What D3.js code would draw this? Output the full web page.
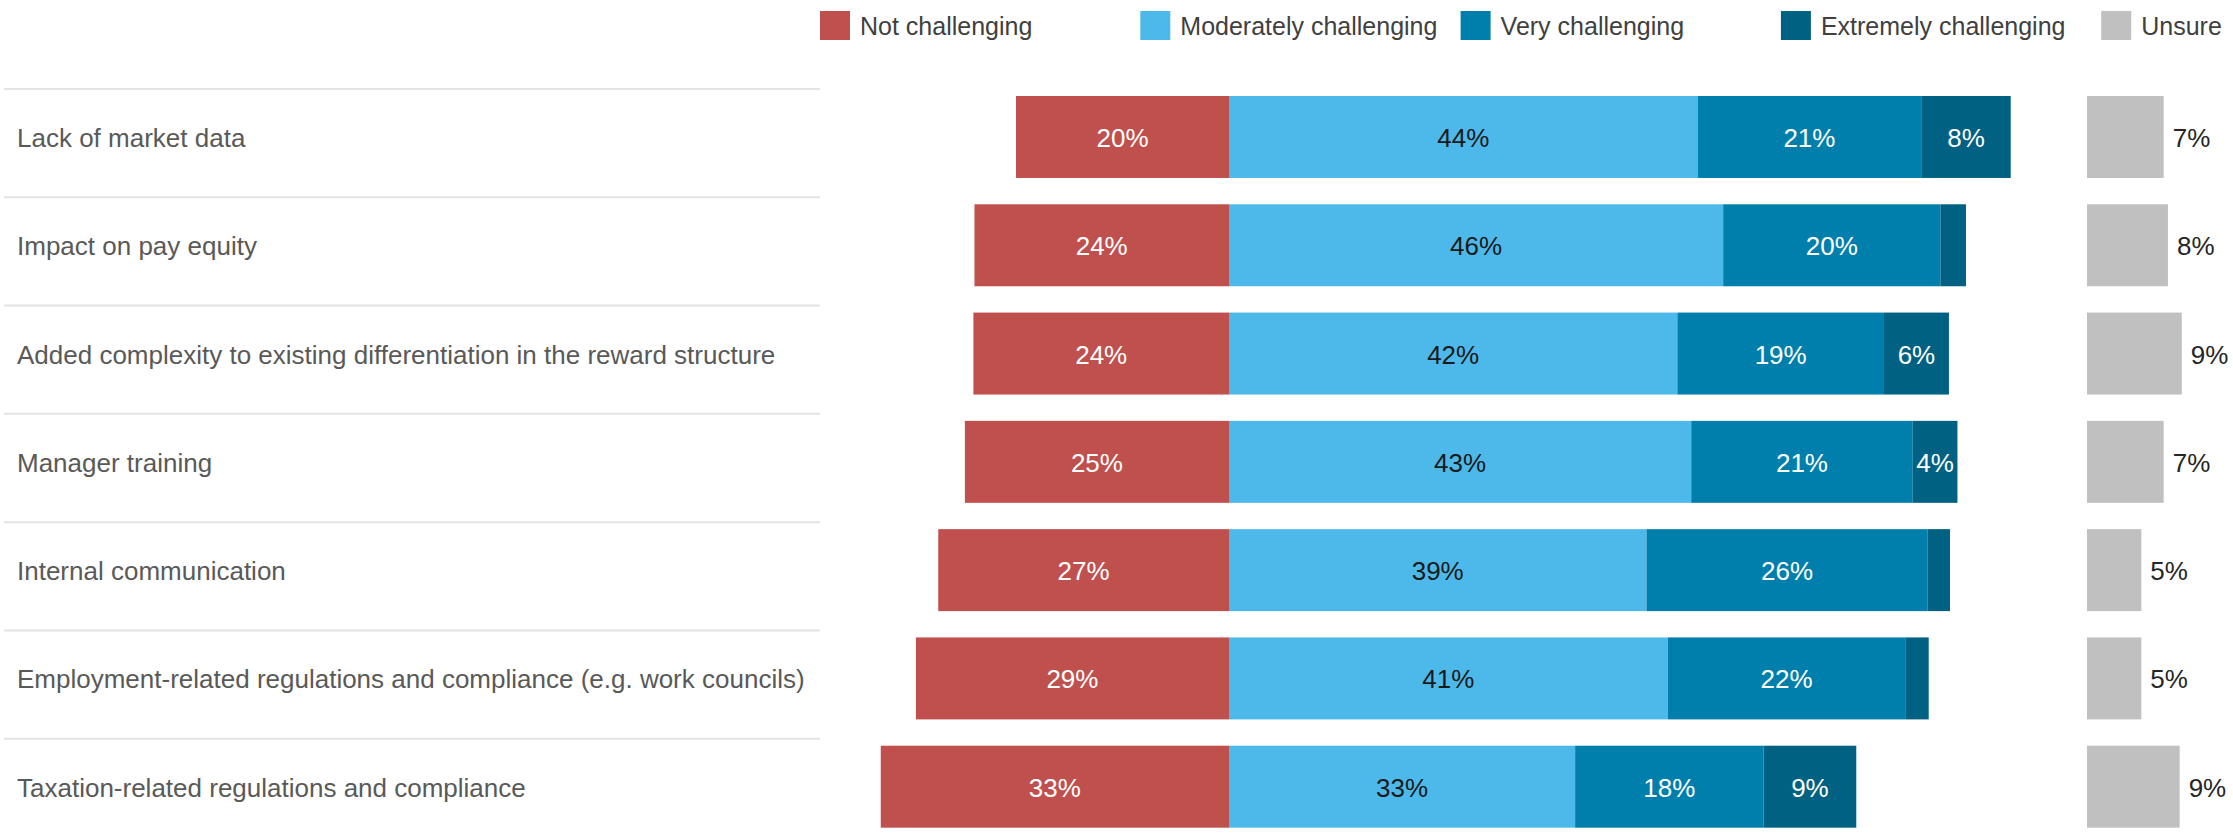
<!DOCTYPE html>
<html lang="en">

<head>
    <meta charset="UTF-8" />
    <title>Reward challenges</title>
    <script src="https://d3js.org/d3.v7.min.js"></script>
    <style>
        body {
            margin: 0;
            background: #ffffff;
            font-family: "Liberation Sans", Arial, sans-serif;
        }
    </style>
</head>

<body>
    <div id="chart"></div>

    <script>
        // Data
        var categories = [
            "Lack of market data",
            "Impact on pay equity",
            "Added complexity to existing differentiation in the reward structure",
            "Manager training",
            "Internal communication",
            "Employment-related regulations and compliance (e.g. work councils)",
            "Taxation-related regulations and compliance"
        ];
        var seriesNames = ["Not challenging", "Moderately challenging", "Very challenging", "Extremely challenging", "Unsure"];
        var notChallenging = [20.0, 23.9, 24.0, 24.8, 27.3, 29.4, 32.7];
        var moderately = [44.0, 46.4, 42.1, 43.4, 39.2, 41.2, 32.5];
        var very = [21.0, 20.4, 19.4, 20.8, 26.4, 22.3, 17.7];
        var extremely = [8.4, 2.4, 6.1, 4.2, 2.1, 2.2, 8.7];
        var unsure = [7.2, 7.6, 8.9, 7.2, 5.1, 5.1, 8.7];

        var colors = ["#c0504d", "#4db9ea", "#007fac", "#006182", "#c0c0c0"];
        var labelColors = ["#ffffff", "#1a1a1a", "#ffffff", "#ffffff"];

        var w = 2233;
        var h = 833;

        var svg = d3.select("#chart")
            .append("svg")
            .attr("width", w)
            .attr("height", h);

        // Scales: diverging stack around zero, and a separate one for "Unsure"
        var xScale = d3.scaleLinear()
            .domain([-40, 80])
            .range([803, 2081]);

        var uScale = d3.scaleLinear()
            .domain([0, 10])
            .range([2087, 2193.5]);

        var yScale = d3.scaleBand()
            .domain(categories)
            .range([89, 847]);

        var barOffset = 7;
        var barHeight = yScale.bandwidth() * 0.757;

        // Build segments for each row
        var segments = [];
        categories.forEach(function(c, i) {
            var parts = [notChallenging[i], moderately[i], very[i], extremely[i]];
            var start = -notChallenging[i];
            parts.forEach(function(v, k) {
                segments.push({ cat: c, k: k, x0: start, x1: start + v, value: v });
                start += v;
            });
        });

        // Row separator lines
        svg.selectAll("line.sep")
            .data(categories)
            .enter()
            .append("line")
            .attr("class", "sep")
            .attr("x1", 4)
            .attr("x2", 820)
            .attr("y1", function(d) { return yScale(d); })
            .attr("y2", function(d) { return yScale(d); })
            .attr("stroke", "#e3e3e3")
            .attr("stroke-width", 2);

        // Row labels
        svg.selectAll("text.cat")
            .data(categories)
            .enter()
            .append("text")
            .attr("class", "cat")
            .attr("x", 17)
            .attr("y", function(d) { return yScale(d) + barOffset + barHeight / 2 + 10; })
            .attr("fill", "#595959")
            .style("font-size", "26px")
            .text(function(d) { return d; });

        // Stacked bars
        svg.selectAll("rect.seg")
            .data(segments)
            .enter()
            .append("rect")
            .attr("class", "seg")
            .attr("x", function(d) { return xScale(d.x0); })
            .attr("width", function(d) { return xScale(d.x1) - xScale(d.x0); })
            .attr("y", function(d) { return yScale(d.cat) + barOffset; })
            .attr("height", barHeight)
            .attr("fill", function(d) { return colors[d.k]; });

        // Values inside the segments (skip the very thin ones)
        svg.selectAll("text.val")
            .data(segments.filter(function(d) { return d.value >= 3; }))
            .enter()
            .append("text")
            .attr("class", "val")
            .attr("x", function(d) { return (xScale(d.x0) + xScale(d.x1)) / 2; })
            .attr("y", function(d) { return yScale(d.cat) + barOffset + barHeight / 2 + 10; })
            .attr("text-anchor", "middle")
            .attr("fill", function(d) { return labelColors[d.k]; })
            .style("font-size", "26px")
            .text(function(d) { return Math.round(d.value) + "%"; });

        // Unsure bars
        svg.selectAll("rect.unsure")
            .data(categories)
            .enter()
            .append("rect")
            .attr("class", "unsure")
            .attr("x", uScale(0))
            .attr("width", function(d, i) { return uScale(unsure[i]) - uScale(0); })
            .attr("y", function(d) { return yScale(d) + barOffset; })
            .attr("height", barHeight)
            .attr("fill", colors[4]);

        svg.selectAll("text.unsure")
            .data(categories)
            .enter()
            .append("text")
            .attr("class", "unsure")
            .attr("x", function(d, i) { return uScale(unsure[i]) + 9; })
            .attr("y", function(d) { return yScale(d) + barOffset + barHeight / 2 + 10; })
            .attr("fill", "#262626")
            .style("font-size", "26px")
            .text(function(d, i) { return Math.round(unsure[i]) + "%"; });

        // Legend along the top
        var legend = svg.selectAll("g.legend")
            .data(seriesNames)
            .enter()
            .append("g")
            .attr("class", "legend")
            .attr("transform", function(d, i) { return "translate(" + (820 + i * 320.3) + ",11)"; });

        legend.append("rect")
            .attr("width", 30)
            .attr("height", 29)
            .attr("fill", function(d, i) { return colors[i]; });

        legend.append("text")
            .attr("x", 40)
            .attr("y", 24)
            .attr("fill", "#404040")
            .style("font-size", "25px")
            .text(function(d) { return d; });
    </script>
</body>

</html>
